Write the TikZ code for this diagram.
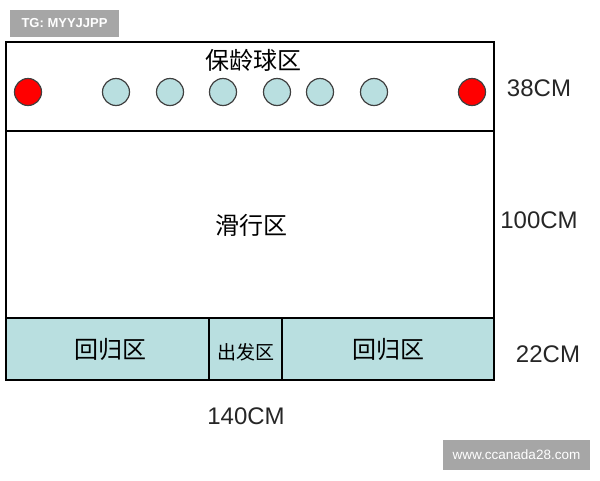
\documentclass[tikz,border=0pt]{standalone}
\usepackage{fontspec}
\setmainfont{Liberation Sans}
\newfontfamily\cjk{Noto Sans CJK SC}
\begin{document}
\begin{tikzpicture}[x=1pt,y=-1pt,
  zone/.style={draw=black,line width=1.6pt},
  lowzone/.style={draw=black,line width=1.4pt,fill=paleblue},
  pin/.style={circle,draw=black!75,line width=1.2pt,minimum size=27pt,inner sep=0pt,fill=paleblue},
  redpin/.style={pin,fill=red},
  zh/.style={font=\cjk\fontsize{24}{26}\selectfont,inner sep=0pt},
  dim/.style={font=\fontsize{24}{26}\selectfont,inner sep=0pt,text=black!85},
  wm/.style={fill=black!35,text=white,inner sep=0pt}]
\definecolor{paleblue}{HTML}{B9DFE0}
\useasboundingbox (0,0) rectangle (600,480);
% zones
\draw[lowzone] (6,318) rectangle (209,380);
\draw[lowzone] (209,318) rectangle (282,380);
\draw[lowzone] (282,318) rectangle (494,380);
\draw[zone] (6,42) rectangle (494,131);
\draw[zone] (6,131) rectangle (494,318);
% pins
\node[redpin] (p0) at (28,92) {};
\node[pin] (p1) at (116,92) {};
\node[pin] (p2) at (170,92) {};
\node[pin] (p3) at (223,92) {};
\node[pin] (p4) at (277,92) {};
\node[pin] (p5) at (320,92) {};
\node[pin] (p6) at (374,92) {};
\node[redpin] (p7) at (472,92) {};
% labels
\node[zh] (t1) at (253,60) {保龄球区};
\node[zh] (t2) at (251,225) {滑行区};
\node[zh] (t3) at (110,349) {回归区};
\node[zh,font=\cjk\fontsize{19}{21}\selectfont] (t4) at (246,352) {出发区};
\node[zh] (t5) at (388,349) {回归区};
% dimensions
\node[dim] (d1) at (539,88) {38CM};
\node[dim] (d2) at (539,220) {100CM};
\node[dim] (d3) at (548,354) {22CM};
\node[dim] (d4) at (246,416) {140CM};
% watermarks
\node[wm,minimum width=109pt,minimum height=27pt,font=\bfseries\fontsize{13}{14}\selectfont] (w1) at (64.5,23.5) {TG: MYYJJPP};
\node[wm,minimum width=147pt,minimum height=30pt,font=\fontsize{13.5}{15}\selectfont] (w2) at (516.5,455) {www.ccanada28.com};
\end{tikzpicture}
\end{document}
